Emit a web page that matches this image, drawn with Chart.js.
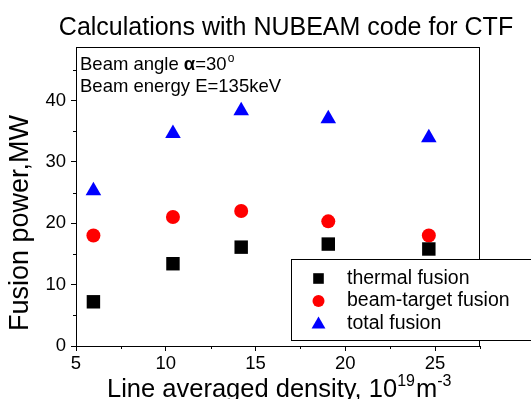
<!DOCTYPE html>
<html>
<head>
<meta charset="utf-8">
<script src="https://cdn.jsdelivr.net/npm/chart.js@4.4.1/dist/chart.umd.min.js"></script>
<style>
  html, body { margin: 0; padding: 0; background: #fff; }
  canvas { display: block; }
</style>
</head>
<body>
<canvas id="fusionChart" width="531" height="399"></canvas>
<script>
// line averaged density (10^19 m^-3) of each NUBEAM run
const density = [5.97, 10.4, 14.2, 19.05, 24.65];
// fusion power, MW
const thermal = [7.2, 13.4, 16.1, 16.6, 15.8];
const beamTarget = [18.0, 21.0, 22.0, 20.3, 18.0];
const total = [25.3, 34.6, 38.3, 37.0, 33.9];

const seriesNames = ['thermal fusion', 'beam-target fusion', 'total fusion'];

// axis ticks
const xTicks = [5, 10, 15, 20, 25];
const xMinor = [7.5, 12.5, 17.5, 22.5, 27.5];
const yTicks = [0, 10, 20, 30, 40];
const yMinor = [5, 15, 25, 35, 45];

const FONT = '"Liberation Sans", Arial, sans-serif';

function toPoints(ys){
  return density.map((x, i) => ({ x: x, y: ys[i] }));
}

// simple marker drawing for the legend box
function marker(ctx, style, r, x, y){
  if (Chart.helpers && Chart.helpers.drawPoint) {
    Chart.helpers.drawPoint(ctx, { pointStyle: style, radius: r, rotation: 0, borderWidth: 0 }, x, y);
  }
}

// frame, minor ticks, notes and legend
const decor = {
  id: 'decor',
  afterDatasetsDraw(chart){
    const ctx = chart.ctx, a = chart.chartArea;
    const xs = chart.scales.x, ys = chart.scales.y;
    ctx.save();
    ctx.strokeStyle = '#000';
    ctx.lineWidth = 1;
    ctx.beginPath();
    ctx.moveTo(a.left, a.top + 0.5); ctx.lineTo(a.right, a.top + 0.5);
    ctx.moveTo(a.right - 0.5, a.top); ctx.lineTo(a.right - 0.5, a.bottom);
    xMinor.forEach(v => {
      const px = Math.round(xs.getPixelForValue(v)) + 0.5;
      ctx.moveTo(px, a.bottom); ctx.lineTo(px, a.bottom + 3);
    });
    yMinor.forEach(v => {
      const py = Math.round(ys.getPixelForValue(v)) + 0.5;
      ctx.moveTo(a.left, py); ctx.lineTo(a.left - 3, py);
    });
    ctx.stroke();

    // notes in the upper left corner
    ctx.fillStyle = '#000';
    ctx.textBaseline = 'alphabetic';
    ctx.textAlign = 'left';
    let x = 80;
    ctx.font = '18.5px ' + FONT;
    ctx.fillText('Beam angle ', x, 70);
    x += ctx.measureText('Beam angle ').width;
    ctx.font = 'bold 18.5px ' + FONT;
    ctx.fillText('\u03b1', x, 70);
    x += ctx.measureText('\u03b1').width;
    ctx.font = '18.5px ' + FONT;
    ctx.fillText('=30', x, 70);
    x += ctx.measureText('=30').width + 1;
    ctx.font = '12px ' + FONT;
    ctx.fillText('o', x, 62);
    ctx.font = '18.5px ' + FONT;
    ctx.fillText('Beam energy E=135keV', 80, 92);

    // legend box (runs off the right edge like the original)
    ctx.fillStyle = '#fff';
    ctx.fillRect(291.5, 259.5, 260, 81);
    ctx.strokeRect(291.5, 259.5, 260, 81);
    const styles = [['rect', 7.5, '#000'], ['circle', 6, '#ff0000'], ['triangle', 8, '#0000ff']];
    const rows = [278.5, 301, 323.5];
    ctx.font = '19.5px ' + FONT;
    ctx.textBaseline = 'middle';
    seriesNames.forEach((name, i) => {
      ctx.fillStyle = styles[i][2];
      marker(ctx, styles[i][0], styles[i][1], 318.5, rows[i] + (i === 2 ? 1 : 0));
      ctx.fillStyle = '#000';
      ctx.fillText(name, 347, rows[i]);
    });
    ctx.restore();
  },
  afterDraw(chart){
    const ctx = chart.ctx;
    ctx.save();
    ctx.fillStyle = '#000';
    // title
    ctx.font = '25px ' + FONT;
    ctx.textAlign = 'center';
    ctx.textBaseline = 'alphabetic';
    ctx.fillText('Calculations with NUBEAM code for CTF', 286, 35);
    // y title
    ctx.save();
    ctx.translate(20.5, 223);
    ctx.rotate(-Math.PI / 2);
    ctx.font = '27px ' + FONT;
    ctx.textBaseline = 'middle';
    ctx.fillText('Fusion power,MW', 0, 0);
    ctx.restore();
    // x title with superscripts
    ctx.textAlign = 'left';
    const parts = [['Line averaged density, 10', false], ['19', true], ['m', false], ['-3', true]];
    let x = 107;
    parts.forEach(p => {
      ctx.font = (p[1] ? '16px ' : '25.5px ') + FONT;
      ctx.fillText(p[0], x, p[1] ? 386 : 397);
      x += ctx.measureText(p[0]).width + (p[1] ? 1 : 0);
    });
    ctx.restore();
  }
};

function init(){
  const ctx = document.getElementById('fusionChart').getContext('2d');
  new Chart(ctx, {
    type: 'scatter',
    data: {
      datasets: [
        { label: seriesNames[0], data: toPoints(thermal), pointStyle: 'rect', pointRadius: 9.5,
          backgroundColor: '#000', borderColor: '#000', borderWidth: 0 },
        { label: seriesNames[1], data: toPoints(beamTarget), pointStyle: 'circle', pointRadius: 7,
          backgroundColor: '#ff0000', borderColor: '#ff0000', borderWidth: 0 },
        { label: seriesNames[2], data: toPoints(total), pointStyle: 'triangle', pointRadius: 9,
          backgroundColor: '#0000ff', borderColor: '#0000ff', borderWidth: 0 }
      ]
    },
    options: {
      responsive: false,
      animation: false,
      devicePixelRatio: 1,
      layout: { padding: { left: 0, top: 47, right: 51, bottom: 0 } },
      plugins: { legend: { display: false }, title: { display: false }, tooltip: { enabled: false } },
      scales: {
        x: {
          type: 'linear', min: 5, max: 27.5,
          afterBuildTicks: s => { s.ticks = xTicks.map(v => ({ value: v })); },
          afterFit: s => { s.height = 53; },
          border: { color: '#000', width: 1 },
          grid: { drawOnChartArea: false, drawTicks: true, tickLength: 5, color: '#000' },
          ticks: { color: '#000', padding: 2, maxRotation: 0, font: { family: FONT, size: 18.5 } }
        },
        y: {
          type: 'linear', min: 0, max: 48.7,
          afterBuildTicks: s => { s.ticks = yTicks.map(v => ({ value: v })); },
          afterFit: s => { s.width = 76; },
          border: { color: '#000', width: 1 },
          grid: { drawOnChartArea: false, drawTicks: true, tickLength: 5, color: '#000' },
          ticks: { color: '#000', padding: 5, font: { family: FONT, size: 18.5 } }
        }
      }
    },
    plugins: [decor]
  });
}

document.addEventListener('DOMContentLoaded', init);
</script>
</body>
</html>
